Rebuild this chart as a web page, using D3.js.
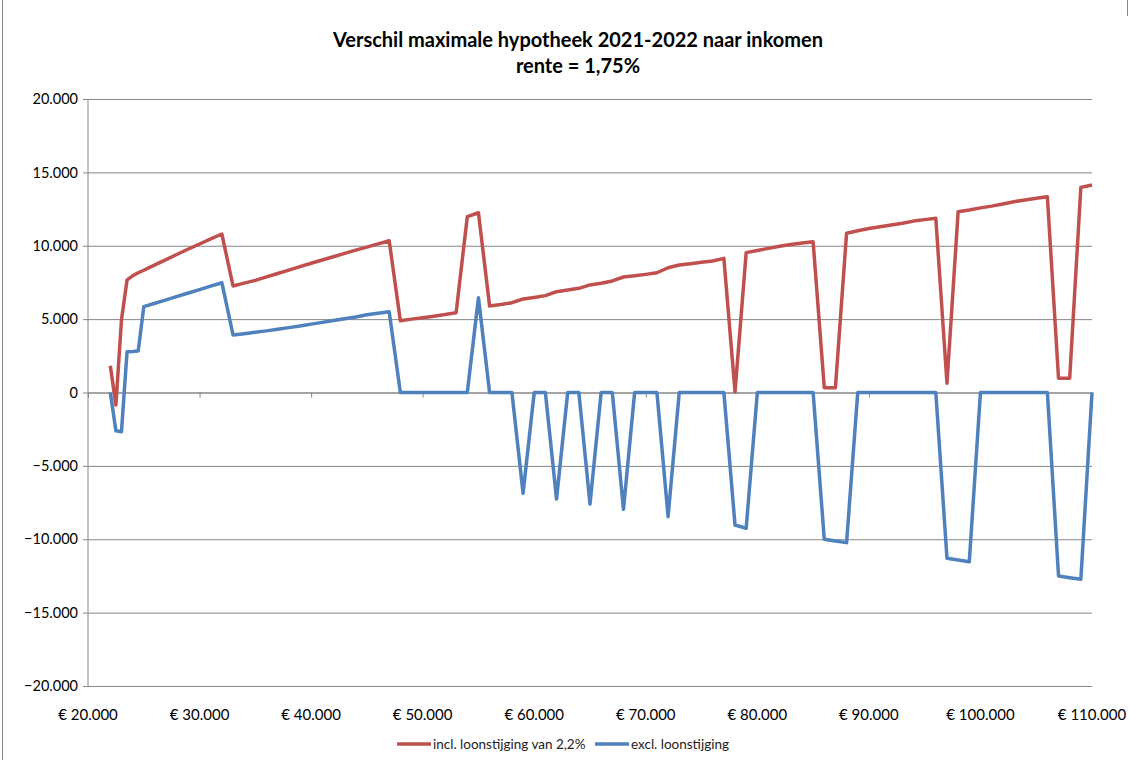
<!DOCTYPE html>
<html>
<head>
<meta charset="utf-8">
<script src="https://cdn.jsdelivr.net/npm/d3@7"></script>
<style>
  body { margin: 0; background: #fff; }
  text { font-family: Lato, "Open Sans", sans-serif; }
</style>
</head>
<body>
<div id="chart"></div>
<script>
// incomes (x), 500 steps at the start, then 1000
const incomes = [22000, 22500, 23000, 23500, 24000, 24500, 25000,
  26000, 27000, 28000, 29000, 30000, 31000, 32000, 33000, 34000, 35000,
  36000, 37000, 38000, 39000, 40000, 41000, 42000, 43000, 44000, 45000,
  46000, 47000, 48000, 49000, 50000, 51000, 52000, 53000, 54000, 55000,
  56000, 57000, 58000, 59000, 60000, 61000, 62000, 63000, 64000, 65000,
  66000, 67000, 68000, 69000, 70000, 71000, 72000, 73000, 74000, 75000,
  76000, 77000, 78000, 79000, 80000, 81000, 82000, 83000, 84000, 85000,
  86000, 87000, 88000, 89000, 90000, 91000, 92000, 93000, 94000, 95000,
  96000, 97000, 98000, 99000, 100000, 101000, 102000, 103000, 104000, 105000,
  106000, 107000, 108000, 109000, 110000];

// incl. loonstijging van 2,2%
const inclLoon = [1830, -850, 4940, 7670, 7950, 8160, 8330,
  8700, 9060, 9420, 9780, 10120, 10470, 10800, 7260, 7450, 7640,
  7880, 8110, 8340, 8580, 8810, 9030, 9250, 9480, 9700, 9910,
  10130, 10340, 4890, 5000, 5100, 5200, 5310, 5440, 11980, 12250,
  5890, 5990, 6120, 6370, 6480, 6600, 6870, 6980, 7100, 7330,
  7440, 7600, 7870, 7950, 8050, 8160, 8500, 8690, 8780, 8870,
  8960, 9140, 50, 9530, 9680, 9820, 9960, 10080, 10180, 10280,
  330, 330, 10850, 11020, 11180, 11300, 11420, 11530, 11680, 11780,
  11870, 630, 12320, 12430, 12580, 12700, 12850, 13000, 13120, 13230,
  13340, 970, 970, 13980, 14140];

// excl. loonstijging
const exclLoon = [0, -2600, -2670, 2780, 2800, 2830, 5850,
  6080, 6310, 6550, 6780, 7010, 7250, 7480, 3920, 4010, 4100,
  4200, 4310, 4420, 4530, 4660, 4780, 4900, 5020, 5150, 5300,
  5400, 5500, 0, 0, 0, 0, 0, 0, 0, 6460,
  0, 0, 0, -6870, 0, 0, -7260, 0, 0, -7600,
  0, 0, -7960, 0, 0, 0, -8460, 0, 0, 0,
  0, 0, -9030, -9250, 0, 0, 0, 0, 0, 0,
  -10000, -10120, -10230, 0, 0, 0, 0, 0, 0, 0,
  0, -11300, -11420, -11530, 0, 0, 0, 0, 0, 0,
  0, -12500, -12620, -12730, 0];

const seriesNames = ["incl. loonstijging van 2,2%", "excl. loonstijging"];
const seriesColors = ["#C0504D", "#4F81BD"];
const xTicks = [20000, 30000, 40000, 50000, 60000, 70000, 80000, 90000, 100000, 110000];
const yTicks = [-20000, -15000, -10000, -5000, 0, 5000, 10000, 15000, 20000];
const titleLines = ["Verschil maximale hypotheek 2021-2022 naar inkomen", "rente = 1,75%"];

const width = 1130, height = 760;
const plotLeft = 88, plotRight = 1092, plotTop = 99, plotBottom = 686;

const svg = d3.select("#chart").append("svg")
  .attr("width", width)
  .attr("height", height);

// chart frame
svg.append("line").attr("x1", 2.5).attr("x2", 2.5).attr("y1", 0).attr("y2", height)
  .attr("stroke", "#868686");
svg.append("line").attr("x1", 1127.5).attr("x2", 1127.5).attr("y1", 0).attr("y2", 16)
  .attr("stroke", "#868686");

const x = d3.scaleLinear().domain([20000, 110000]).range([plotLeft, plotRight]);
const y = d3.scaleLinear().domain([-20000, 20000]).range([plotBottom, plotTop]);

const nl = d3.formatLocale({decimal: ",", thousands: ".", grouping: [3], currency: ["€ ", ""]});
const fmtY = nl.format(",.0f");
const fmtX = nl.format("$,.0f");

// title
svg.append("g").selectAll("text")
  .data(titleLines)
  .join("text")
  .attr("x", 578)
  .attr("y", (d, i) => 47 + i * 26)
  .attr("text-anchor", "middle")
  .style("font-size", "20px")
  .style("font-weight", "bold")
  .text(d => d);

// horizontal gridlines + y labels
const yAxis = d3.axisLeft(y).tickValues(yTicks).tickFormat(fmtY)
  .tickSize(-(plotRight - plotLeft)).tickPadding(10);
const gy = svg.append("g").attr("transform", `translate(${plotLeft},0)`).call(yAxis);
gy.select(".domain").remove();
gy.selectAll(".tick line").attr("stroke", "#868686").attr("x1", -5).attr("x2", plotRight - plotLeft);
gy.selectAll(".tick text").style("font-size", "14.5px").attr("fill", "#000");
gy.attr("font-family", null);

// vertical axis line
svg.append("line").attr("x1", plotLeft).attr("x2", plotLeft).attr("y1", plotTop).attr("y2", plotBottom)
  .attr("stroke", "#868686");

// x axis crossing at zero, labels low
const xAxis = d3.axisBottom(x).tickValues(xTicks).tickFormat("").tickSize(5);
const gx = svg.append("g").attr("transform", `translate(0,${y(0)})`).call(xAxis);
gx.select(".domain").attr("stroke", "#868686");
gx.selectAll(".tick line").attr("stroke", "#868686");

svg.append("g").selectAll("text")
  .data(xTicks)
  .join("text")
  .attr("x", d => x(d))
  .attr("y", plotBottom + 34)
  .attr("text-anchor", "middle")
  .style("font-size", "15px")
  .text(d => fmtX(d));

// lines
const line = d3.line()
  .x(d => x(d[0]))
  .y(d => y(d[1]));

[inclLoon, exclLoon].forEach((vals, i) => {
  svg.append("path")
    .datum(incomes.map((inc, j) => [inc, vals[j]]))
    .attr("fill", "none")
    .attr("stroke", seriesColors[i])
    .attr("stroke-width", 3.5)
    .attr("stroke-linejoin", "round")
    .attr("d", line);
});

// legend
const legendX = [397, 595];
const lg = svg.append("g").attr("transform", "translate(0,744)");
seriesNames.forEach((name, i) => {
  lg.append("line")
    .attr("x1", legendX[i]).attr("x2", legendX[i] + 34)
    .attr("y1", 0).attr("y2", 0)
    .attr("stroke", seriesColors[i]).attr("stroke-width", 3.5);
  lg.append("text")
    .attr("x", legendX[i] + 36)
    .attr("y", 5)
    .style("font-size", "13.5px")
    .attr("fill", "#222")
    .text(name);
});
</script>
</body>
</html>
